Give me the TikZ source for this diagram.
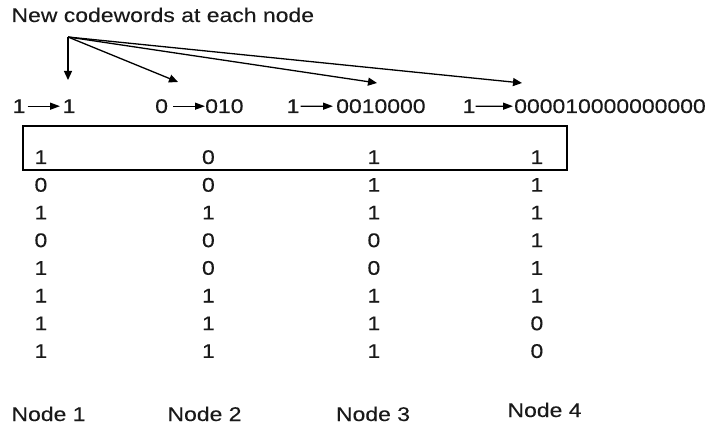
\documentclass[tikz,border=0pt]{standalone}
\usepackage{fontspec}
\setmainfont{Liberation Sans}[FakeStretch=1.16, FakeBold=0.2]
\usetikzlibrary{arrows.meta}

\begin{document}
\begin{tikzpicture}[x=1pt, y=-1pt,
    lbl/.style={inner sep=0pt, anchor=base west, text=black!90,
                font=\fontsize{19.8pt}{22pt}\selectfont},
    bit/.style={lbl, anchor=base},
    maparrow/.style={line width=1.3pt, -{Triangle[length=10pt,width=7pt]}},
    pointer/.style={line width=1.3pt, -{Triangle[length=9pt,width=8pt]}},
    framebox/.style={draw, line width=1.2pt, inner sep=0pt,
                     minimum width=544pt, minimum height=44pt}]
  \useasboundingbox (0,0) rectangle (708,427);

  % heading and the pointers fanning out from it
  \node[lbl] (title) at (11.3,22) {New codewords at each node};
  \coordinate (src) at (68,37);
  \coordinate (p1) at (68,80);
  \coordinate (p2) at (178,82);
  \coordinate (p3) at (377,83);
  \coordinate (p4) at (522,83);
  \foreach \p in {p1,p2,p3,p4}
    \draw[pointer] (src) -- (\p);

  % bit -> codeword mappings
  \node[lbl] (s1) at (12.5,113) {1};
  \node[lbl] (t1) at (62.5,113) {1};
  \node[lbl] (s2) at (155,113) {0};
  \node[lbl] (t2) at (205,113) {010};
  \node[lbl] (s3) at (286.5,113) {1};
  \node[lbl] (t3) at (336,113) {0010000};
  \node[lbl] (s4) at (462.5,113) {1};
  \node[lbl] (t4) at (514,113) {000010000000000};
  \draw[maparrow, shorten <=2pt, shorten >=2.5pt] (s1.east) -- (t1.west);
  \draw[maparrow, shorten <=5pt] (s2.east) -- (t2.west);
  \draw[maparrow, shorten <=1pt, shorten >=3pt] (s3.east) -- (t3.west);
  \draw[maparrow, shorten <=0pt, shorten >=1pt] (s4.east) -- (t4.west);

  % frame round the first row
  \node[framebox] (first) at (295,148) {};

  % bit table: one column per node
  \foreach \r/\a/\b/\c/\d in
      {1/1/0/1/1, 2/0/0/1/1, 3/1/1/1/1, 4/0/0/0/1,
       5/1/0/0/1, 6/1/1/1/1, 7/1/1/1/0, 8/1/1/1/0} {
    \pgfmathsetmacro{\yb}{164+27.7*(\r-1)}
    \node[bit] (b\r-1) at (40.9,\yb) {\a};
    \node[bit] (b\r-2) at (208.4,\yb) {\b};
    \node[bit] (b\r-3) at (373.9,\yb) {\c};
    \node[bit] (b\r-4) at (536.9,\yb) {\d};
  }

  % column captions
  \node[lbl] (n1) at (11.3,421) {Node 1};
  \node[lbl] (n2) at (167.3,421) {Node 2};
  \node[lbl] (n3) at (335.8,421) {Node 3};
  \node[lbl] (n4) at (507.3,417) {Node 4};
\end{tikzpicture}
\end{document}
